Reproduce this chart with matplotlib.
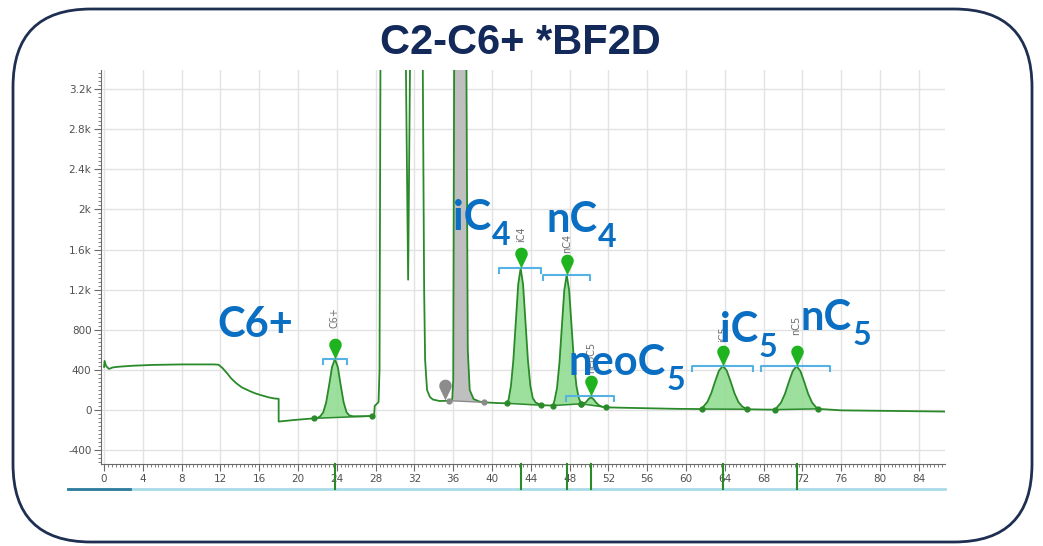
import numpy as np
import matplotlib
matplotlib.use('Agg')
import matplotlib.pyplot as plt
import matplotlib.ticker as mticker
from matplotlib.path import Path
from matplotlib.patches import FancyBboxPatch
from matplotlib.transforms import blended_transform_factory

TITLE = 'C2-C6+ *BF2D'

# ── Data (retention time in min, signal) ─────────────────────────────────────
TRACE_X = [0.0, 0.05, 0.2, 0.5, 0.9, 1.5, 3.0, 5.0, 8.0, 11.3, 11.8, 12.2, 12.7,
           13.1, 13.6, 14.2, 15.0, 15.6, 16.3, 17.0, 17.6, 18.0, 18.0, 19.5,
           21.6, 22.0, 22.3, 22.6, 22.9, 23.2, 23.5, 23.8, 24.1, 24.4, 24.7,
           25.0, 25.3, 25.7, 26.5, 27.6, 27.85, 27.9, 28.1, 28.3, 28.4, 28.5,
           28.7, 30.9, 31.1, 31.35, 31.55, 31.8, 32.6, 32.85, 33.0, 33.1, 33.3,
           33.6, 33.9, 34.6, 35.2, 35.6, 35.9, 36.0, 36.1, 36.3, 37.1, 37.35,
           37.5, 37.7, 38.1, 38.7, 39.2, 40.5, 41.5, 41.7, 41.95, 42.2, 42.45,
           42.7, 42.95, 43.2, 43.45, 43.7, 43.95, 44.2, 44.5, 45.1, 45.7, 46.3,
           46.45, 46.7, 46.95, 47.2, 47.45, 47.7, 47.95, 48.2, 48.45, 48.7,
           48.95, 49.2, 49.45, 49.7, 49.95, 50.2, 50.45, 50.7, 50.95, 51.3,
           51.8, 53.0, 56.0, 59.0, 61.6, 61.8, 62.2, 62.6, 63.0, 63.4, 63.8,
           64.2, 64.6, 65.0, 65.4, 65.8, 66.3, 68.0, 69.2, 69.4, 69.8, 70.2,
           70.6, 71.0, 71.4, 71.8, 72.2, 72.6, 73.0, 73.4, 73.6, 76.0, 80.0,
           84.0, 86.8]
TRACE_Y = [430, 490, 440, 410, 425, 432, 442, 450, 455, 455, 452, 420, 365,
           316, 270, 226, 190, 166, 145, 126, 115, 112, -115, -100,
           -83, -80, -61, -22, 77, 247, 428, 510, 428, 247, 77,
           -22, -55, -62, -62, -60, -55, 40, 60, 80, 400, 3600,
           6000, 6000, 3600, 1300, 3600, 6000, 6000, 3600, 1200, 500, 200,
           130, 105, 90, 92, 93, 110, 300, 3600, 6000, 6000, 3600,
           600, 200, 110, 85, 77, 70, 67, 100, 243, 499, 881,
           1254, 1413, 1254, 881, 499, 243, 119, 75, 48, 46, 45,
           100, 220, 470, 837, 1195, 1347, 1195, 840, 480, 240,
           120, 62, 65, 80, 110, 127, 110, 78, 52, 35,
           27, 24, 18, 12, 10, 35, 81, 167, 285, 394, 439,
           394, 285, 167, 81, 35, 8, 5, 4, 29, 75, 161,
           279, 388, 439, 388, 279, 161, 75, 29, 12, -3, -8,
           -12, -15]

PEAK_TAGS = ['C6+', 'iC4', 'nC4', 'neoC5', 'iC5', 'nC5']
LABEL_MAIN = ['C6+', 'iC', 'nC', 'neoC', 'iC', 'nC']
LABEL_SUB = ['', '4', '4', '5', '5', '5']
PEAK_RT = [23.8, 42.95, 47.7, 50.2, 63.8, 71.4]
PEAK_START = [21.6, 41.5, 46.3, 49.2, 61.6, 69.2]
PEAK_END = [27.6, 45.1, 49.2, 51.8, 66.3, 73.6]
BRACKET_LEFT = [22.6, 40.7, 45.3, 47.6, 60.6, 67.7]
BRACKET_RIGHT = [25.0, 45.0, 50.1, 52.6, 66.9, 74.8]
BRACKET_Y = [506, 1413, 1347, 140, 439, 439]

# unidentified (grey) peak
GREY_START, GREY_END = 35.6, 39.2
GREY_MARK_RT, GREY_MARK_Y = 35.2, 100

# layout of the annotations
TAG_Y = [818, 1680, 1565, 370, 680, 748]
LABEL_X = [11.65, 36.0, 45.6, 47.9, 63.5, 71.8]
LABEL_Y = [731, 1795, 1778, 349, 681, 798]

LINE_GREEN = '#2a8a2a'
FILL_GREEN = '#92dc92'
MARK_GREEN = '#1fb31f'
BRACKET_BLUE = '#55b2e2'
LABEL_BLUE = '#0a6fc2'
NAVY = '#12295a'


def drop_marker():
    """Teardrop with its tip at the origin, pointing down."""
    r, c = 0.3, 0.7
    phi = np.degrees(np.arccos(r / c))
    ang = np.radians(np.linspace(-90 + phi, 270 - phi, 40))
    verts = [(0, 0)] + [(r * np.cos(a), c + r * np.sin(a)) for a in ang] + [(0, 0)]
    return Path(verts, closed=True)


def k_fmt(v, _):
    if abs(v) >= 1000:
        return f'{v / 1000:g}k'
    return f'{v:g}'


fig = plt.figure(figsize=(10.43, 5.46), dpi=100)
renderer = fig.canvas.get_renderer()

# ── Frame around the slide ───────────────────────────────────────────────────
bg = fig.add_axes([0, 0, 1, 1], zorder=-1)
bg.set_xlim(0, 1043)
bg.set_ylim(546, 0)
bg.axis('off')
bg.add_patch(FancyBboxPatch((13, 9), 1019, 533,
                            boxstyle='round,pad=0,rounding_size=78',
                            fc='white', ec='#1e2f52', lw=2))
bg.plot([68, 945], [489, 489], color='#a9dbe8', lw=2)
bg.plot([68, 130], [489, 489], color='#2d7c9c', lw=2)

fig.text(0.4986, 0.921, TITLE, ha='center', va='center', fontsize=30,
         fontweight='bold', color=NAVY,
         family=['Liberation Sans Narrow', 'Liberation Sans', 'DejaVu Sans'])

# ── Chromatogram ────────────────────────────────────────────────────────────
ax = fig.add_axes([0.097, 0.150, 0.809, 0.722], zorder=1)
ax.set_facecolor('white')
ax.set_xlim(-0.3, 86.7)
ax.set_ylim(-539, 3392)
x = np.array(TRACE_X)
y = np.array(TRACE_Y)

ax.plot(x, y, color=LINE_GREEN, lw=1.3, zorder=4)

# grey peak
m = (x >= GREY_START) & (x <= GREY_END)
ax.fill(x[m], y[m], color='#bfbfbf', lw=0, zorder=3)
gy = np.interp([GREY_START, GREY_END], x, y)
ax.plot([GREY_START, GREY_END], gy, color='#8a8a8a', lw=1, marker='o', ms=3.5,
        zorder=5)

drop = drop_marker()
ax.plot(GREY_MARK_RT, GREY_MARK_Y, marker=drop, ms=30, color='#8c8c8c',
        mew=0, zorder=6)

tr = blended_transform_factory(ax.transData, ax.transAxes)
for i in range(len(PEAK_TAGS)):
    m = (x >= PEAK_START[i]) & (x <= PEAK_END[i])
    ax.fill(x[m], y[m], color=FILL_GREEN, lw=0, alpha=0.9, zorder=3)
    by = np.interp([PEAK_START[i], PEAK_END[i]], x, y)
    ax.plot([PEAK_START[i], PEAK_END[i]], by, color=LINE_GREEN, lw=1.1,
            marker='o', ms=3.5, zorder=5)

    # integration bracket
    bl, br, yb = BRACKET_LEFT[i], BRACKET_RIGHT[i], BRACKET_Y[i]
    ax.plot([bl, bl, br, br], [yb - 50, yb, yb, yb - 50], color=BRACKET_BLUE,
            lw=1.5, zorder=6)
    ax.plot(PEAK_RT[i], yb, marker=drop, ms=30, color=MARK_GREEN, mew=0, zorder=7)

    ax.text(PEAK_RT[i], TAG_Y[i], PEAK_TAGS[i], rotation=90, ha='center',
            va='bottom', fontsize=7, color='#6e6e6e', zorder=6)

    # big blue label, subscript placed by hand
    t = ax.text(LABEL_X[i], LABEL_Y[i], LABEL_MAIN[i], ha='left', va='baseline',
                fontsize=30, fontweight='bold', color=LABEL_BLUE, family='Lato',
                zorder=10)
    if LABEL_SUB[i]:
        w_pt = t.get_window_extent(renderer=renderer).width * 72 / fig.dpi
        ax.annotate(LABEL_SUB[i], xy=(LABEL_X[i], LABEL_Y[i]),
                    xytext=(w_pt + 0.5, -11), textcoords='offset points',
                    ha='left', va='baseline', fontsize=23, fontweight='bold',
                    color=LABEL_BLUE, family='Lato', zorder=10)

    # peak marks below the time axis
    ax.plot([PEAK_RT[i], PEAK_RT[i]], [0, -0.062], color=LINE_GREEN, lw=1.5,
            transform=tr, clip_on=False, zorder=5)

ax.xaxis.set_major_locator(mticker.MultipleLocator(4))
ax.xaxis.set_minor_locator(mticker.MultipleLocator(0.4))
ax.yaxis.set_major_locator(mticker.MultipleLocator(400))
ax.yaxis.set_minor_locator(mticker.MultipleLocator(40))
ax.yaxis.set_major_formatter(mticker.FuncFormatter(k_fmt))

ax.grid(True, which='major', color='#e2e2e2', lw=1)
ax.set_axisbelow(True)
for s in ('top', 'right'):
    ax.spines[s].set_visible(False)
for s in ('left', 'bottom'):
    ax.spines[s].set_color('#6a6a6a')
ax.tick_params(which='major', length=5, color='#6a6a6a', labelsize=7.5,
               labelcolor='#505050', pad=2)
ax.tick_params(which='minor', length=2.5, color='#6a6a6a')

fig.savefig('out.png', dpi=100)
